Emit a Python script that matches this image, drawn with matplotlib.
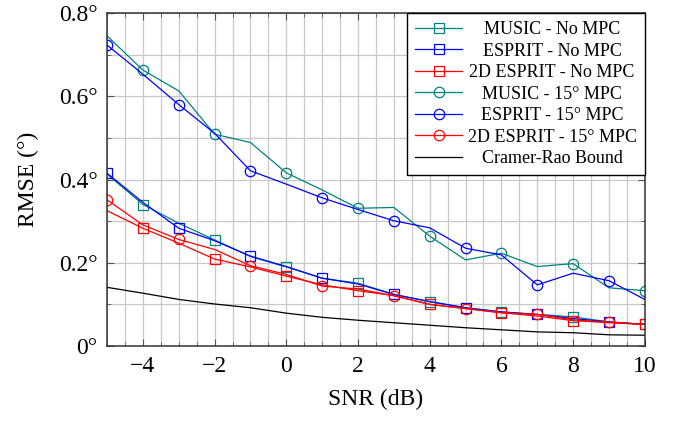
import numpy as np
import matplotlib
matplotlib.use('Agg')
import matplotlib.pyplot as plt
from matplotlib.ticker import MultipleLocator, FuncFormatter
from matplotlib.offsetbox import VPacker

snr = np.arange(-5, 11)

music_no_mpc = [0.413, 0.340, 0.295, 0.255, 0.215, 0.190, 0.163, 0.151,
                0.124, 0.106, 0.092, 0.082, 0.076, 0.070, 0.058, 0.052]
esprit_no_mpc = [0.415, 0.345, 0.283, 0.253, 0.216, 0.191, 0.163, 0.149,
                 0.124, 0.107, 0.092, 0.082, 0.076, 0.066, 0.058, 0.052]
esprit2d_no_mpc = [0.325, 0.283, 0.247, 0.209, 0.190, 0.168, 0.147, 0.133,
                   0.121, 0.100, 0.090, 0.080, 0.072, 0.061, 0.056, 0.052]
music_mpc = [0.745, 0.663, 0.613, 0.509, 0.489, 0.416, 0.375, 0.331,
             0.333, 0.264, 0.207, 0.223, 0.191, 0.198, 0.140, 0.133]
esprit_mpc = [0.723, 0.653, 0.580, 0.511, 0.421, 0.389, 0.356, 0.328,
              0.301, 0.284, 0.235, 0.219, 0.147, 0.175, 0.157, 0.112]
esprit2d_mpc = [0.351, 0.291, 0.256, 0.232, 0.193, 0.172, 0.144, 0.137,
                0.121, 0.100, 0.090, 0.080, 0.076, 0.063, 0.057, 0.052]
crb = [0.141, 0.127, 0.112, 0.101, 0.092, 0.079, 0.069, 0.062,
       0.056, 0.050, 0.044, 0.039, 0.034, 0.032, 0.027, 0.026]

plt.rcParams['font.family'] = ['Liberation Serif', 'DejaVu Serif']

teal = '#008080'


def center_legend_text(fig, leg):
    # pgfplots centres legend text in its column, matplotlib does not
    renderer = fig.canvas.get_renderer()
    texts = leg.get_texts()
    maxw = max(t.get_window_extent(renderer).width for t in texts)
    for column in leg._legend_handle_box.get_children():
        for item in column.get_children():
            kids = item._children
            kids[1] = VPacker(pad=0, sep=0, width=maxw, align='center',
                              children=[kids[1]])


def main():
    fig = plt.figure(figsize=(6.78, 4.22), dpi=100)
    ax = fig.add_axes([0.158, 0.180, 0.793, 0.789])

    mk = dict(markersize=7.5, fillstyle='none', markeredgewidth=0.9, lw=0.9)
    ax.plot(snr, music_no_mpc, color=teal, marker='s', markevery=(1, 2),
            label='MUSIC - No MPC', **mk)
    ax.plot(snr, esprit_no_mpc, color='blue', marker='s', markevery=(0, 2),
            label='ESPRIT - No MPC', **mk)
    ax.plot(snr, esprit2d_no_mpc, color='red', marker='s', markevery=(1, 2),
            label='2D ESPRIT - No MPC', **mk)
    ax.plot(snr, music_mpc, color=teal, marker='o', markevery=(1, 2),
            label='MUSIC - 15° MPC', **mk)
    ax.plot(snr, esprit_mpc, color='blue', marker='o', markevery=(0, 2),
            label='ESPRIT - 15° MPC', **mk)
    ax.plot(snr, esprit2d_mpc, color='red', marker='o', markevery=(0, 2),
            label='2D ESPRIT - 15° MPC', **mk)
    ax.plot(snr, crb, color='black', lw=0.9, label='Cramer-Rao Bound')

    ax.set_xlim(-5, 10)
    ax.set_ylim(0, 0.8)
    ax.xaxis.set_major_locator(MultipleLocator(2))
    ax.xaxis.set_minor_locator(MultipleLocator(0.5))
    ax.yaxis.set_major_locator(MultipleLocator(0.2))
    ax.yaxis.set_minor_locator(MultipleLocator(0.1))
    ax.xaxis.set_major_formatter(FuncFormatter(lambda v, p: f'{v:.0f}'.replace('-', '\u2212')))
    ax.yaxis.set_major_formatter(FuncFormatter(lambda v, p: '0°' if abs(v) < 1e-9 else f'{v:.1f}°'))
    ax.grid(which='both', color='#c8c8c8', lw=0.9)
    ax.set_axisbelow(True)
    ax.tick_params(which='both', direction='in', top=True, right=True,
                   color='#555555', labelsize=17)
    ax.tick_params(axis='x', which='major', pad=7)
    ax.tick_params(axis='y', which='major', pad=7)
    ax.tick_params(which='major', length=5)
    ax.tick_params(which='minor', length=3)
    for s in ax.spines.values():
        s.set_color('#333333')
        s.set_linewidth(1.1)

    ax.set_xlabel('SNR (dB)', fontsize=17, labelpad=9)
    ax.set_ylabel('RMSE (°)', fontsize=17, labelpad=14)

    leg = ax.legend(loc='upper right', fontsize=13, numpoints=1, fancybox=False,
                    edgecolor='black', framealpha=1, borderaxespad=0,
                    handlelength=2.6, handletextpad=0.3, labelspacing=0.25,
                    borderpad=0.45)
    leg.get_frame().set_linewidth(1.0)
    center_legend_text(fig, leg)

    fig.savefig('out.png', dpi=100)


if __name__ == '__main__':
    main()
